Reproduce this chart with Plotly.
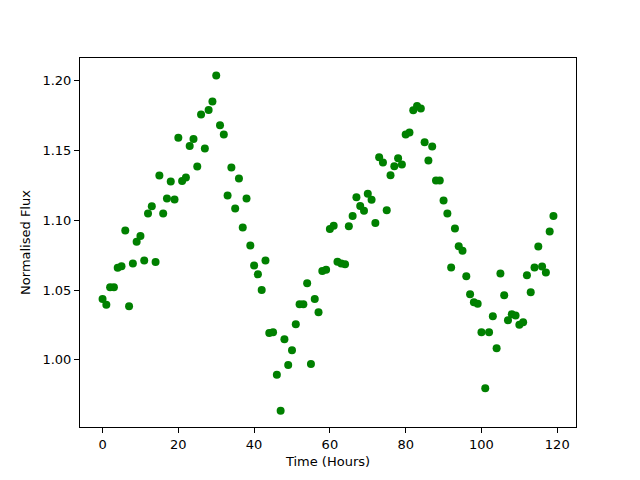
import plotly.graph_objects as go

hours = list(range(120))
flux = [
    1.0436, 1.0395, 1.052, 1.052, 1.066, 1.067, 1.0926, 1.0384, 1.069, 1.0845,
    1.0886, 1.0712, 1.1048, 1.110, 1.070, 1.1319, 1.1048, 1.1155, 1.1276, 1.1148,
    1.159, 1.128, 1.1305, 1.153, 1.158, 1.1384, 1.1755, 1.1512, 1.1788, 1.1848,
    1.2034, 1.1679, 1.1612, 1.1176, 1.1376, 1.1084, 1.1298, 1.0948, 1.1155, 1.0819,
    1.0676, 1.0612, 1.050, 1.0712, 1.0193, 1.0198, 0.9893, 0.9636, 1.0148, 0.9964,
    1.0069, 1.0255, 1.0398, 1.0398, 1.0548, 0.9971, 1.0436, 1.0341, 1.0636, 1.0645,
    1.0936, 1.0959, 1.0702, 1.069, 1.0684, 1.0957, 1.1029, 1.1164, 1.1102, 1.1067,
    1.1188, 1.1145, 1.0979, 1.145, 1.1412, 1.1071, 1.1321, 1.1386, 1.1443, 1.1398,
    1.1612, 1.1627, 1.1786, 1.1817, 1.1798, 1.1557, 1.1426, 1.1526, 1.1283, 1.1283,
    1.114, 1.1048, 1.0662, 1.0941, 1.0814, 1.0781, 1.0598, 1.0469, 1.0412, 1.0402,
    1.0198, 0.9798, 1.0198, 1.0312, 1.0084, 1.0619, 1.0462, 1.0284, 1.0326, 1.0317,
    1.0252, 1.0269, 1.0605, 1.0484, 1.0662, 1.0812, 1.0669, 1.0626, 1.0919, 1.1029,
]
x_ticks = [0, 20, 40, 60, 80, 100, 120]
y_ticks = [1.00, 1.05, 1.10, 1.15, 1.20]

fig = go.Figure()
fig.add_trace(go.Scatter(
    x=hours, y=flux, mode="markers",
    marker=dict(color="#008000", size=8, line=dict(width=0)),
    showlegend=False,
))

axis_common = dict(
    showgrid=False, zeroline=False, showline=True, linecolor="black", linewidth=1,
    mirror=True, ticks="outside", ticklen=5, tickwidth=1, tickcolor="black",
    tickfont=dict(family="DejaVu Sans", size=13, color="black"),
    title_font=dict(family="DejaVu Sans", size=13, color="black"),
)

# page body has an 8px margin, so the figure is shrunk by 8px and margins shifted
fig.update_layout(
    width=632, height=472,
    paper_bgcolor="white", plot_bgcolor="white",
    margin=dict(l=72, r=64, t=50, b=53),
    xaxis=dict(range=[-5.95, 124.95], tickvals=x_ticks, title=dict(text="Time (Hours)", standoff=6), automargin=False, **axis_common),
    yaxis=dict(range=[0.952, 1.216], tickvals=y_ticks, tickformat=".2f", title=dict(text="Normalised Flux", standoff=8), automargin=False, **axis_common),
)

fig.write_html("out.html")
